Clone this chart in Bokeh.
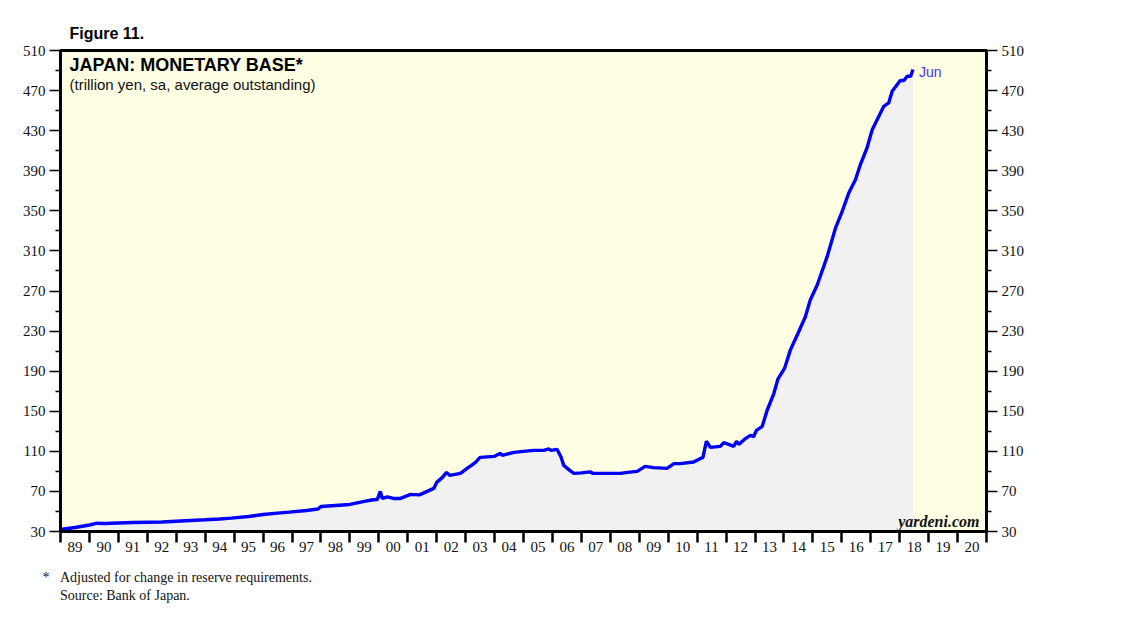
from bokeh.plotting import figure
from bokeh.models import LinearAxis, FixedTicker, Label, Range1d, Title
from bokeh.embed import file_html
from bokeh.resources import INLINE

# ---- data (decimal year, trillion yen) ----
dates = [1989.0, 1989.5, 1990.0, 1990.27, 1990.5, 1991.0, 1991.5, 1992.0, 1992.5, 1993.0,
         1993.5, 1994.0, 1994.5, 1994.9, 1995.5, 1996.0, 1996.5, 1996.9, 1997.5, 1997.9,
         1998.0, 1998.5, 1999.0, 1999.5, 1999.8, 1999.95, 2000.05, 2000.12, 2000.3, 2000.5,
         2000.75, 2001.1, 2001.4, 2001.67, 2001.9, 2002.0, 2002.2, 2002.34, 2002.45, 2002.82,
         2003.05, 2003.2, 2003.34, 2003.5, 2004.0, 2004.2, 2004.27, 2004.67, 2005.0, 2005.35,
         2005.7, 2005.87, 2005.95, 2006.16, 2006.3, 2006.39, 2006.6, 2006.74, 2007.0, 2007.3,
         2007.4, 2008.0, 2008.35, 2008.6, 2008.93, 2009.2, 2009.5, 2009.96, 2010.2, 2010.42,
         2010.88, 2011.1, 2011.2, 2011.32, 2011.46, 2011.8, 2011.92, 2012.09, 2012.27, 2012.36,
         2012.45, 2012.67, 2012.84, 2012.95, 2013.05, 2013.25, 2013.42, 2013.65, 2013.79, 2014.02,
         2014.22, 2014.51, 2014.74, 2014.91, 2015.15, 2015.49, 2015.78, 2016.01, 2016.24, 2016.47,
         2016.64, 2016.87, 2017.05, 2017.22, 2017.45, 2017.62, 2017.74, 2018.02, 2018.14, 2018.26,
         2018.38, 2018.46]
values = [32.0, 34.0, 36.5, 38.3, 38.0, 38.5, 39.0, 39.3, 39.5, 40.3,
          41.0, 41.7, 42.5, 43.3, 45.0, 47.0, 48.3, 49.3, 51.0, 52.5,
          55.0, 56.0, 57.0, 60.0, 61.7, 62.0, 70.0, 63.0, 64.5, 63.0,
          63.0, 67.0, 66.5, 70.0, 73.0, 79.0, 84.0, 89.0, 86.0, 88.0,
          93.0, 96.0, 99.0, 104.0, 105.0, 108.0, 106.0, 109.0, 110.0, 111.0,
          111.0, 112.5, 111.0, 112.0, 104.0, 96.0, 91.0, 88.0, 88.5, 89.5,
          88.0, 88.0, 88.0, 89.0, 90.0, 95.0, 93.7, 93.0, 97.7, 97.7,
          99.3, 102.7, 104.0, 120.0, 114.0, 115.0, 118.7, 117.0, 115.0, 120.0,
          117.0, 122.7, 126.0, 124.6, 131.0, 135.0, 151.0, 167.7, 182.0, 192.7,
          211.0, 229.3, 244.3, 261.0, 276.0, 304.0, 332.7, 349.3, 367.7, 381.0,
          396.0, 412.7, 431.0, 441.0, 454.3, 457.7, 469.3, 480.0, 480.0, 484.3,
          484.3, 491.0]

label_years = list(range(1989, 2021))
year_labels = ["89", "90", "91", "92", "93", "94", "95", "96", "97", "98", "99", "00",
               "01", "02", "03", "04", "05", "06", "07", "08", "09", "10", "11", "12",
               "13", "14", "15", "16", "17", "18", "19", "20"]
y_ticks = [30, 70, 110, 150, 190, 230, 270, 310, 350, 390, 430, 470, 510]
y_minor = [50, 90, 130, 170, 210, 250, 290, 330, 370, 410, 450, 490]
last_label = "Jun"

SANS = "Liberation Sans"
SERIF = "Liberation Serif"

p = figure(width=1120, height=630,
           x_range=Range1d(label_years[0], label_years[-1] + 1),
           y_range=Range1d(y_ticks[0], y_ticks[-1]),
           output_backend="svg", toolbar_location=None,
           x_axis_location=None, y_axis_location=None,
           min_border_left=60, min_border_right=134,
           min_border_top=50, min_border_bottom=99)
p.background_fill_color = "#FFFFE4"
p.border_fill_color = "white"
p.outline_line_color = "black"
p.outline_line_width = 3
p.xgrid.visible = False
p.ygrid.visible = False

# area + line
p.varea(x=dates, y1=[y_ticks[0]] * len(dates), y2=values, fill_color="#F1F1F1")
p.line(dates, values, line_color="#0000FF", line_width=3.4)

# y axes
def make_y_axis():
    return LinearAxis(
        ticker=FixedTicker(ticks=y_ticks, minor_ticks=y_minor),
        axis_line_width=3, axis_line_color="black",
        major_tick_out=11, major_tick_in=0, major_tick_line_width=1.5,
        minor_tick_out=5, minor_tick_in=0, minor_tick_line_width=1.5,
        major_label_text_font=SERIF, major_label_text_font_size="15px",
        major_label_text_color="#111111", major_label_standoff=4)

p.add_layout(make_y_axis(), "left")
p.add_layout(make_y_axis(), "right")

# x axis 1: year-boundary ticks (no labels)
boundaries = label_years + [label_years[-1] + 1]
xt = LinearAxis(
    ticker=FixedTicker(ticks=boundaries, minor_ticks=[]),
    axis_line_width=3, axis_line_color="black",
    major_tick_out=11, major_tick_in=0, major_tick_line_width=2.5,
    major_tick_line_color="black",
    major_label_overrides={b: "" for b in boundaries},
    major_label_text_font_size="1px", major_label_standoff=0)
p.add_layout(xt, "below")

# x axis 2: labels at mid-year
mid = [y + 0.5 for y in label_years]
xl = LinearAxis(
    ticker=FixedTicker(ticks=mid, minor_ticks=[]),
    axis_line_color=None, major_tick_line_color=None,
    major_tick_out=0, major_tick_in=0,
    major_label_overrides={m: lab for m, lab in zip(mid, year_labels)},
    major_label_text_font=SERIF, major_label_text_font_size="15px",
    major_label_text_color="#111111", major_label_standoff=-1)
p.add_layout(xl, "below")

# titles outside the frame
p.add_layout(Title(text="Figure 11.", align="left", offset=9, standoff=17,
                   text_font=SANS, text_font_style="bold", text_font_size="16px",
                   text_color="black"), "above")
footnote = ("*\u00a0\u00a0\u00a0Adjusted for change in reserve requirements.\n"
            "\u00a0\u00a0\u00a0\u00a0\u00a0Source: Bank of Japan.")
p.add_layout(Title(text=footnote, align="left", offset=-18, standoff=28,
                   text_font=SERIF, text_font_style="normal", text_font_size="14px",
                   text_line_height=1.15, text_color="#111111"), "below")

x0 = label_years[0]
x1 = label_years[-1] + 1
ytop = y_ticks[-1]
ybot = y_ticks[0]

p.add_layout(Label(x=x0, y=ytop, x_offset=9, y_offset=-4, text="JAPAN: MONETARY BASE*",
                   text_font=SANS, text_font_style="bold", text_font_size="18px",
                   text_baseline="top", text_color="black"))
p.add_layout(Label(x=x0, y=ytop, x_offset=9, y_offset=-25,
                   text="(trillion yen, sa, average outstanding)",
                   text_font=SANS, text_font_size="15px",
                   text_baseline="top", text_color="#111111"))
p.add_layout(Label(x=dates[-1], y=values[-1], x_offset=6, y_offset=-2, text=last_label,
                   text_font=SANS, text_font_size="14px",
                   text_baseline="middle", text_color="#4433FF"))
p.add_layout(Label(x=x1, y=ybot, x_offset=-7, y_offset=10, text="yardeni.com",
                   text_font=SERIF, text_font_style="bold italic", text_font_size="16px",
                   text_align="right", text_baseline="alphabetic", text_color="#111111"))

open("out.html", "w").write(file_html(p, INLINE))
